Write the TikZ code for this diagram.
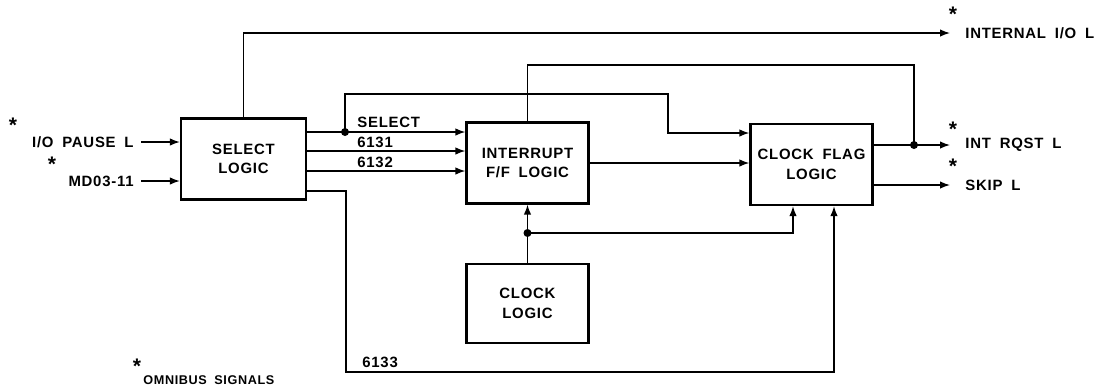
\documentclass[tikz,border=0pt]{standalone}
\usepackage{fontspec}
\setmainfont{Liberation Sans}[LetterSpace=5, WordSpace=1.8]
\usetikzlibrary{arrows.meta,positioning,calc}

\begin{document}
\begin{tikzpicture}[x=0.02cm, y=-0.02cm,
    block/.style={rectangle, draw, line width=1.3pt, minimum height=1.62cm, minimum width=2.44cm, inner sep=1pt, align=center, font=\bfseries\fontsize{8.5}{11}\selectfont},
    sig/.style={inner xsep=4pt, inner ysep=1pt, font=\bfseries\fontsize{8.5}{10}\selectfont},
    star/.style={anchor=north, inner sep=0pt, font=\bfseries\fontsize{12}{12}\selectfont},
    arrow/.style={-{Latex[length=2mm, width=1.5mm]}, line width=0.8pt},
    outarrow/.style={arrow, shorten >=0.16cm},
    wire/.style={line width=0.8pt}
]
\useasboundingbox (0,0) rectangle (1106,387);
% blocks
\node[block, minimum width=2.5cm] (sel) at (243.5,159) {SELECT\\LOGIC};
\node[block] (intr) at (527.5,163)   {INTERRUPT\\F/F LOGIC};
\node[block] (cflag) at (811.5,164.5) {CLOCK FLAG\\LOGIC};
\node[block, minimum height=1.58cm] (clk) at (527.5,303.5) {CLOCK\\LOGIC};
% signal names
\node[sig, anchor=east] (pause) at (141,142) {I/O PAUSE L};
\node[sig, anchor=east] (md)    at (141,181) {MD03-11};
\node[sig, anchor=west] (iio)   at (958,33)  {INTERNAL I/O L};
\node[sig, anchor=west] (rqst)  at (958,145) {INT RQST L};
\node[sig, anchor=west] (skip)  at (958,185) {SKIP L};
\node[sig, anchor=west] (lsel)  at (350,122) {SELECT};
\node[sig, anchor=west] (l6131) at (350,142) {6131};
\node[sig, anchor=west] (l6132) at (350,162) {6132};
\node[sig, anchor=west] (l6133) at (355,362) {6133};
\node[sig, anchor=west, font=\bfseries\fontsize{7.2}{9}\selectfont] (omni) at (136,380) {OMNIBUS SIGNALS};
% omnibus marks
\node[star] (s1) at (13,118)  {*};
\node[star] (s2) at (52,157)  {*};
\node[star] (s3) at (953,7)   {*};
\node[star] (s4) at (953,122) {*};
\node[star] (s5) at (953,159) {*};
\node[star] (s6) at (137,359) {*};
% junctions
\coordinate (dsel) at (345,132);
\coordinate (up)   at (345,94);
\coordinate (dn)   at (668,133);
\coordinate (drq)  at (914,145);
\coordinate (fb)   at (914,65);
\coordinate (dclk) at (527.5,233);
\coordinate (b33)  at (346,372);

\draw[arrow] (pause) -- (sel.west |- pause);
\draw[arrow] (md) -- (sel.west |- md);
\draw[outarrow] (sel.north) |- (iio.west);
\draw[arrow] (sel.east |- dsel) -- (intr.west |- dsel);
\draw[arrow] (sel.east |- 0,151) -- (intr.west |- 0,151);
\draw[arrow] (sel.east |- 0,171) -- (intr.west |- 0,171);
\draw[arrow] (sel.east |- 0,191) -| (b33) -| ([xshift=0.45cm]cflag.south);
\draw[arrow] (dsel) -- (up) -| (dn) -- (cflag.west |- dn);
\draw[arrow] (intr.east) -- (cflag.west |- intr.east);
\draw[outarrow] (cflag.east |- rqst) -- (rqst.west);
\draw[wire] (drq) -- (fb) -| (intr.north);
\draw[outarrow] (cflag.east |- skip) -- (skip.west);
\draw[wire] (clk.north) -- (dclk);
\draw[arrow] (dclk) -- (intr.south);
\draw[arrow] (dclk) -| ([xshift=-0.37cm]cflag.south);
\fill (dsel) circle[radius=0.08cm];
\fill (drq) circle[radius=0.08cm];
\fill (dclk) circle[radius=0.08cm];
\end{tikzpicture}
\end{document}
